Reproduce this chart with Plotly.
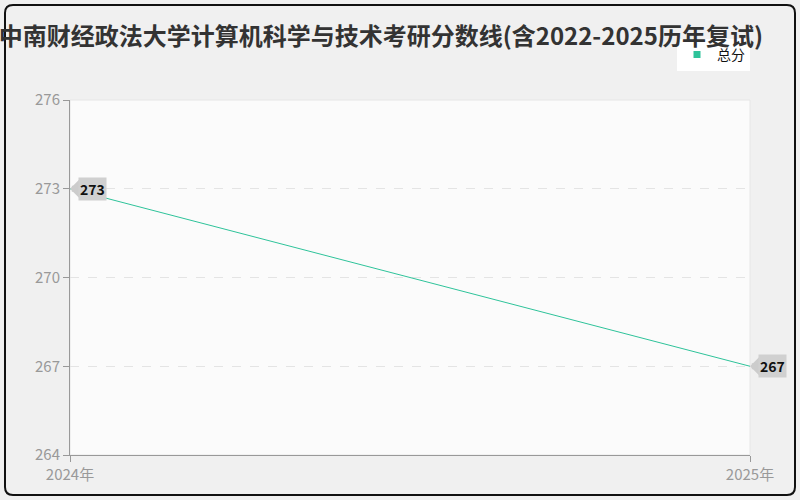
import plotly.graph_objects as go

# data
years = ["2024年", "2025年"]
scores = [273, 267]
series_name = "总分"
title_text = "中南财经政法大学计算机科学与技术考研分数线(含2022-2025历年复试)"
y_ticks = [264, 267, 270, 273, 276]

W, H = 800, 500
ML, MR, MT, MB = 70, 50, 100, 45
PW, PH = W - ML - MR, H - MT - MB


def px_to_paper(x, y):
    return (x - ML) / PW, (H - MB - y) / PH


def rounded_rect(x0, y0, x1, y1, r):
    a = px_to_paper(x0 + r, y0)
    b = px_to_paper(x1 - r, y0)
    c = px_to_paper(x1, y0 + r)
    d = px_to_paper(x1, y1 - r)
    e = px_to_paper(x1 - r, y1)
    f = px_to_paper(x0 + r, y1)
    g = px_to_paper(x0, y1 - r)
    h = px_to_paper(x0, y0 + r)
    c1 = px_to_paper(x1, y0)
    c2 = px_to_paper(x1, y1)
    c3 = px_to_paper(x0, y1)
    c4 = px_to_paper(x0, y0)
    fmt = lambda p: f"{p[0]:.5f},{p[1]:.5f}"
    return (f"M {fmt(a)} L {fmt(b)} Q {fmt(c1)} {fmt(c)} L {fmt(d)} "
            f"Q {fmt(c2)} {fmt(e)} L {fmt(f)} Q {fmt(c3)} {fmt(g)} "
            f"L {fmt(h)} Q {fmt(c4)} {fmt(a)} Z")


fig = go.Figure()

fig.add_trace(go.Scatter(
    x=years,
    y=scores,
    mode="lines",
    name=series_name,
    line=dict(color="#2ec39a", width=1),
    showlegend=False,
    cliponaxis=False,
))

# legend entry drawn as a small square, like the original
fig.add_trace(go.Scatter(
    x=[None], y=[None],
    mode="markers",
    name=series_name,
    marker=dict(symbol="square", size=7, color="#2ec39a"),
))

# value labels: a grey pointer first, then the grey box on top of it
for yr, val in zip(years, scores):
    fig.add_annotation(
        x=yr, y=val, text="",
        showarrow=True, ax=14, ay=0, axref="pixel", ayref="pixel",
        arrowhead=1, arrowsize=0.5, arrowwidth=6,
        arrowcolor="#cccccc", standoff=0,
    )
for yr, val in zip(years, scores):
    fig.add_annotation(
        x=yr, y=val, text=f"<b>{val}</b>",
        showarrow=False, xanchor="left", xshift=8,
        bgcolor="#d0d0d0", font=dict(size=14, color="#111"),
        borderpad=1,
    )

fig.update_layout(
    width=W, height=H,
    margin=dict(l=ML, r=MR, t=MT, b=MB),
    paper_bgcolor="#f0f0f0",
    plot_bgcolor="#fbfbfb",
    font=dict(family="Noto Sans CJK SC, Noto Sans, sans-serif"),
    title=dict(
        text=f"<b>{title_text}</b>",
        x=0.476, xanchor="center", y=0.926, yanchor="middle",
        font=dict(size=24, color="#333"),
    ),
    legend=dict(
        x=1.0, xanchor="right", y=1.127, yanchor="middle",
        bgcolor="#ffffff", font=dict(size=14, color="#111"),
        itemwidth=30,
    ),
    xaxis=dict(
        type="category", range=[0, 1],
        showgrid=False, showline=True, linecolor="#999", linewidth=1,
        ticks="outside", ticklen=6, tickcolor="#999",
        tickfont=dict(size=15, color="#999"),
        mirror=False, zeroline=False,
    ),
    yaxis=dict(
        range=[264, 276], tickvals=y_ticks,
        showgrid=True, gridcolor="#e4e4e4", griddash="dash",
        showline=True, linecolor="#999", linewidth=1,
        ticks="outside", ticklen=6, tickcolor="#999",
        tickfont=dict(size=15, color="#999"),
        zeroline=False,
    ),
    shapes=[
        # light border on plot area top/right
        dict(type="rect", xref="paper", yref="paper", x0=0, y0=0, x1=1, y1=1,
             line=dict(color="#e6e6e6", width=1), layer="below"),
        # outer rounded frame
        dict(type="path", xref="paper", yref="paper",
             path=rounded_rect(5, 5, 795, 495, 8),
             line=dict(color="#111", width=2), layer="above"),
    ],
)

fig.write_html("out.html", config={"displayModeBar": False},
               post_script="document.body.style.margin='0';")
